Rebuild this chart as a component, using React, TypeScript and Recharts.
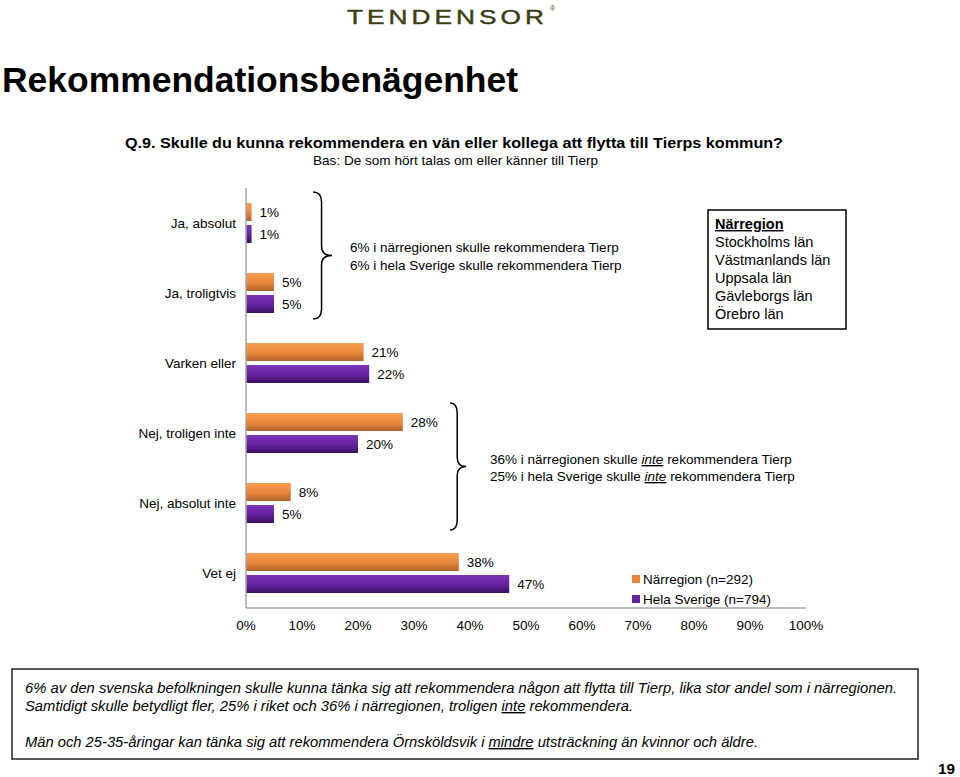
import { Bar, BarChart, LabelList, Legend, XAxis, YAxis } from 'recharts';

const categories = [
  'Ja, absolut',
  'Ja, troligtvis',
  'Varken eller',
  'Nej, troligen inte',
  'Nej, absolut inte',
  'Vet ej',
];
const narregion = [1, 5, 21, 28, 8, 38];
const helaSverige = [1, 5, 22, 20, 5, 47];
const xTicks = [0, 10, 20, 30, 40, 50, 60, 70, 80, 90, 100];

const data = categories.map((cat, i) => ({
  cat,
  narregion: narregion[i],
  sverige: helaSverige[i],
}));

const FONT = '"Liberation Sans", Arial, sans-serif';
const SWATCH: Record<string, string> = { narregion: '#e8843a', sverige: '#6424a0' };
const LEGEND_ORDER = ['narregion', 'sverige'];

function LegendContent({ payload }: { payload?: Array<{ value: string; dataKey?: string }> }) {
  const items = [...(payload ?? [])].sort(
    (a, b) => LEGEND_ORDER.indexOf(String(a.dataKey)) - LEGEND_ORDER.indexOf(String(b.dataKey)),
  );
  return (
    <div style={{ fontFamily: FONT, fontSize: 13.5, color: '#000' }}>
      {items.map((p) => (
        <div key={p.value} style={{ display: 'flex', alignItems: 'center', height: 20 }}>
          <span
            style={{
              display: 'inline-block',
              width: 8,
              height: 8,
              marginRight: 3,
              background: SWATCH[String(p.dataKey)],
            }}
          />
          {p.value}
        </div>
      ))}
    </div>
  );
}

// curly brace pointing right, x = left edge, w = distance to the tip
function brace(x: number, y1: number, y2: number, w: number) {
  const mid = (y1 + y2) / 2;
  const xm = x + w * 0.45;
  return `M ${x} ${y1} Q ${xm} ${y1} ${xm} ${y1 + 10} L ${xm} ${mid - 9} Q ${xm} ${mid} ${x + w} ${mid} Q ${xm} ${mid} ${xm} ${mid + 9} L ${xm} ${y2 - 10} Q ${xm} ${y2} ${x} ${y2}`;
}

function Overlay() {
  return (
    <svg
      width={960}
      height={777}
      style={{ position: 'absolute', left: 0, top: 0, pointerEvents: 'none', fontFamily: FONT }}
    >
      <text
        x={347}
        y={23.5}
        fontSize={19.5}
        fill="#3c3d12"
        stroke="#3c3d12"
        strokeWidth={0.4}
        letterSpacing={3}
        textLength={201}
        lengthAdjust="spacingAndGlyphs"
      >
        TENDENSOR
      </text>
      <text x={550} y={11} fontSize={7} fill="#3c3d12">®</text>

      <text x={2} y={92} fontSize={35} fontWeight="bold" fill="#000" textLength={516} lengthAdjust="spacingAndGlyphs">
        Rekommendationsbenägenhet
      </text>
      <text x={125} y={148} fontSize={15.5} fontWeight="bold" fill="#000" textLength={658} lengthAdjust="spacingAndGlyphs">
        Q.9. Skulle du kunna rekommendera en vän eller kollega att flytta till Tierps kommun?
      </text>
      <text x={313} y={165} fontSize={13.5} fill="#000" textLength={285} lengthAdjust="spacingAndGlyphs">
        Bas: De som hört talas om eller känner till Tierp
      </text>

      <path d={brace(313, 192, 319, 19)} fill="none" stroke="#000" strokeWidth={1.5} />
      <text fontSize={13.5} fill="#000">
        <tspan x={350} y={252}>6% i närregionen skulle rekommendera Tierp</tspan>
        <tspan x={350} y={270}>6% i hela Sverige skulle rekommendera Tierp</tspan>
      </text>

      <rect x={708} y={210} width={138} height={119} fill="#fff" stroke="#000" strokeWidth={1.5} />
      <text fontSize={14.5} fill="#000">
        <tspan x={715} y={229} fontWeight="bold" textDecoration="underline">Närregion</tspan>
        <tspan x={715} y={247}>Stockholms län</tspan>
        <tspan x={715} y={265}>Västmanlands län</tspan>
        <tspan x={715} y={283}>Uppsala län</tspan>
        <tspan x={715} y={301}>Gävleborgs län</tspan>
        <tspan x={715} y={319}>Örebro län</tspan>
      </text>

      <path d={brace(450, 403, 530, 16)} fill="none" stroke="#000" strokeWidth={1.5} />
      <text fontSize={13.5} fill="#000">
        <tspan x={490} y={464}>36% i närregionen skulle </tspan>
        <tspan fontStyle="italic" textDecoration="underline">inte</tspan>
        <tspan> rekommendera Tierp</tspan>
      </text>
      <text fontSize={13.5} fill="#000">
        <tspan x={490} y={481}>25% i hela Sverige skulle </tspan>
        <tspan fontStyle="italic" textDecoration="underline">inte</tspan>
        <tspan> rekommendera Tierp</tspan>
      </text>

      <rect x={12} y={669} width={906} height={90} fill="none" stroke="#222" strokeWidth={1.5} />
      <text x={25} y={693} fontSize={14} fontStyle="italic" fill="#000" textLength={872} lengthAdjust="spacingAndGlyphs">
        6% av den svenska befolkningen skulle kunna tänka sig att rekommendera någon att flytta till Tierp, lika stor andel som i närregionen.
      </text>
      <text x={25} y={711} fontSize={14} fontStyle="italic" fill="#000" textLength={608} lengthAdjust="spacingAndGlyphs">
        Samtidigt skulle betydligt fler, 25% i riket och 36% i närregionen, troligen{' '}
        <tspan textDecoration="underline">inte</tspan> rekommendera.
      </text>
      <text x={25} y={747} fontSize={14} fontStyle="italic" fill="#000" textLength={733} lengthAdjust="spacingAndGlyphs">
        Män och 25-35-åringar kan tänka sig att rekommendera Örnsköldsvik i{' '}
        <tspan textDecoration="underline">mindre</tspan> utsträckning än kvinnor och äldre.
      </text>
      <text x={938} y={774} fontSize={14} fontWeight="bold" fill="#000" textLength={17} lengthAdjust="spacingAndGlyphs">
        19
      </text>
    </svg>
  );
}

export default function App() {
  const tick = { fill: '#000', fontSize: 13.5, fontFamily: FONT };
  return (
    <div style={{ position: 'absolute', left: 0, top: 0, width: 960, height: 777, background: '#fff', fontFamily: FONT }}>
      <BarChart
        layout="vertical"
        width={960}
        height={777}
        data={data}
        margin={{ top: 188, right: 154, bottom: 139, left: 126 }}
        barSize={18}
        barGap={4}
      >
        <defs>
          <linearGradient id="gradOrange" x1="0" y1="0" x2="0" y2="1">
            <stop offset="0%" stopColor="#f8a055" />
            <stop offset="55%" stopColor="#e9853a" />
            <stop offset="100%" stopColor="#b0622c" />
          </linearGradient>
          <linearGradient id="gradPurple" x1="0" y1="0" x2="0" y2="1">
            <stop offset="0%" stopColor="#7d34b4" />
            <stop offset="55%" stopColor="#6522a0" />
            <stop offset="100%" stopColor="#3a0f60" />
          </linearGradient>
        </defs>
        <XAxis
          type="number"
          domain={[0, 100]}
          ticks={xTicks}
          tickFormatter={(v) => `${v}%`}
          tick={tick}
          tickLine={false}
          tickMargin={6}
          axisLine={{ stroke: '#a6a6a6', strokeWidth: 1.5 }}
          height={30}
        />
        <YAxis
          type="category"
          dataKey="cat"
          width={120}
          interval={0}
          tick={tick}
          tickLine={false}
          tickMargin={4}
          axisLine={{ stroke: '#a6a6a6', strokeWidth: 1.5 }}
        />
        <Legend
          layout="vertical"
          align="center"
          verticalAlign="middle"
          content={<LegendContent />}
          wrapperStyle={{ left: 632, top: 569, width: 180, height: 40 }}
        />
        <Bar dataKey="narregion" name="Närregion (n=292)" fill="url(#gradOrange)" isAnimationActive={false}>
          <LabelList dataKey="narregion" position="right" offset={8} formatter={(v: number) => `${v}%`} style={{ fill: '#000', fontSize: 13.5, fontFamily: FONT }} />
        </Bar>
        <Bar dataKey="sverige" name="Hela Sverige (n=794)" fill="url(#gradPurple)" isAnimationActive={false}>
          <LabelList dataKey="sverige" position="right" offset={8} formatter={(v: number) => `${v}%`} style={{ fill: '#000', fontSize: 13.5, fontFamily: FONT }} />
        </Bar>
      </BarChart>
      <Overlay />
    </div>
  );
}
